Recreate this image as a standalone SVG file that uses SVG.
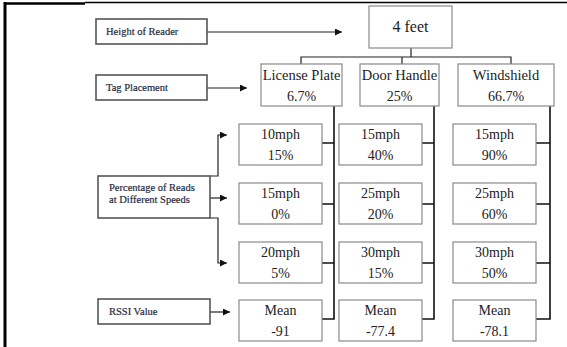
<svg xmlns="http://www.w3.org/2000/svg" width="567" height="347" viewBox="0 0 567 347">
<style>
.box{fill:#fff;stroke:#8a8a8a;stroke-width:1.2}
.lbl{fill:#fff;stroke:#555;stroke-width:1.6}
.t{font-family:"Liberation Serif","Times New Roman",serif;font-size:14px;fill:#222;text-anchor:middle}
.s{font-family:"Liberation Serif","Times New Roman",serif;font-size:10.5px;fill:#1f2a40;stroke:#1f2a40;stroke-width:0.2}
.c{fill:none;stroke:#222;stroke-width:1.2}
.ck{fill:none;stroke:#111;stroke-width:1.6}
</style>
<defs>
<marker id="ah" viewBox="0 0 10 10" refX="10" refY="5" markerWidth="7" markerHeight="7" markerUnits="userSpaceOnUse" orient="auto">
<path d="M0,0 L10,5 L0,10 z" fill="#111"/>
</marker>
</defs>
<g id="frame">
<line x1="5" y1="2" x2="5" y2="347" stroke="#000" stroke-width="3"/>
<line x1="4" y1="3.5" x2="85" y2="3.5" stroke="#000" stroke-width="2.5"/>
<line x1="85" y1="2.5" x2="567" y2="2.5" stroke="#000" stroke-width="1.5"/>
</g>
<g id="connectors">
<line class="c" x1="207" y1="32" x2="342" y2="32" marker-end="url(#ah)"/>
<line class="c" x1="207" y1="88" x2="247" y2="88" marker-end="url(#ah)"/>
<path class="c" d="M210,176 H218 V135 H227" marker-end="url(#ah)"/>
<line class="c" x1="210" y1="198" x2="227" y2="198" marker-end="url(#ah)"/>
<path class="c" d="M210,218 H218 V263 H227" marker-end="url(#ah)"/>
<line class="c" x1="210" y1="312" x2="230" y2="312" marker-end="url(#ah)"/>
<path class="c" d="M411,48 V57 M301,64 V57 H511 V64 M402,57 V64"/>
<path class="ck" d="M334,106 V319 H322 M322,143 H334 M322,204 H334 M322,263 H334"/>
<path class="ck" d="M434,106 V319 H422 M422,143 H434 M422,204 H434 M422,263 H434"/>
<path class="ck" d="M550,106 V319 H536 M536,143 H550 M536,204 H550 M536,263 H550"/>
</g>
<g id="height-label"><rect class="lbl" x="96" y="19" width="111" height="25"/><text class="s" x="106" y="35">Height of Reader</text></g>
<g id="tag-label"><rect class="lbl" x="96" y="75" width="111" height="25"/><text class="s" x="106" y="91">Tag Placement</text></g>
<g id="speed-label"><rect class="lbl" x="98" y="176" width="112" height="42"/><text class="s" x="109" y="191">Percentage of Reads</text><text class="s" x="109" y="203">at Different Speeds</text></g>
<g id="rssi-label"><rect class="lbl" x="98" y="299" width="112" height="25"/><text class="s" x="109" y="315">RSSI Value</text></g>
<g id="height"><rect class="box" x="369" y="6" width="83" height="42"/><text class="t" x="410.5" y="32" style="font-size:16px">4 feet</text></g>
<g id="license"><rect class="box" x="261" y="64" width="81" height="42"/><text class="t" x="301.5" y="80" style="font-size:14.5px">License Plate</text><text class="t" x="301.5" y="101">6.7%</text></g>
<g id="door"><rect class="box" x="360" y="64" width="79" height="42"/><text class="t" x="399.5" y="80" style="font-size:14.5px">Door Handle</text><text class="t" x="399.5" y="101">25%</text></g>
<g id="windshield"><rect class="box" x="458" y="64" width="96" height="42"/><text class="t" x="506" y="80" style="font-size:14.5px">Windshield</text><text class="t" x="506" y="101">66.7%</text></g>
<g id="lp1"><rect class="box" x="239" y="124" width="83" height="41"/><text class="t" x="280.5" y="139">10mph</text><text class="t" x="280.5" y="160">15%</text></g>
<g id="lp2"><rect class="box" x="239" y="183" width="83" height="41"/><text class="t" x="280.5" y="198">15mph</text><text class="t" x="280.5" y="219">0%</text></g>
<g id="lp3"><rect class="box" x="239" y="242" width="83" height="41"/><text class="t" x="280.5" y="257">20mph</text><text class="t" x="280.5" y="278">5%</text></g>
<g id="dh1"><rect class="box" x="339" y="124" width="83" height="41"/><text class="t" x="380.5" y="139">15mph</text><text class="t" x="380.5" y="160">40%</text></g>
<g id="dh2"><rect class="box" x="339" y="183" width="83" height="41"/><text class="t" x="380.5" y="198">25mph</text><text class="t" x="380.5" y="219">20%</text></g>
<g id="dh3"><rect class="box" x="339" y="242" width="83" height="41"/><text class="t" x="380.5" y="257">30mph</text><text class="t" x="380.5" y="278">15%</text></g>
<g id="ws1"><rect class="box" x="453" y="124" width="83" height="41"/><text class="t" x="494.5" y="139">15mph</text><text class="t" x="494.5" y="160">90%</text></g>
<g id="ws2"><rect class="box" x="453" y="183" width="83" height="41"/><text class="t" x="494.5" y="198">25mph</text><text class="t" x="494.5" y="219">60%</text></g>
<g id="ws3"><rect class="box" x="453" y="242" width="83" height="41"/><text class="t" x="494.5" y="257">30mph</text><text class="t" x="494.5" y="278">50%</text></g>
<g id="lp-mean"><rect class="box" x="239" y="300" width="83" height="41"/><text class="t" x="280.5" y="315">Mean</text><text class="t" x="280.5" y="336">-91</text></g>
<g id="dh-mean"><rect class="box" x="339" y="300" width="83" height="41"/><text class="t" x="380.5" y="315">Mean</text><text class="t" x="380.5" y="336">-77.4</text></g>
<g id="ws-mean"><rect class="box" x="453" y="300" width="83" height="41"/><text class="t" x="494.5" y="315">Mean</text><text class="t" x="494.5" y="336">-78.1</text></g>
</svg>
